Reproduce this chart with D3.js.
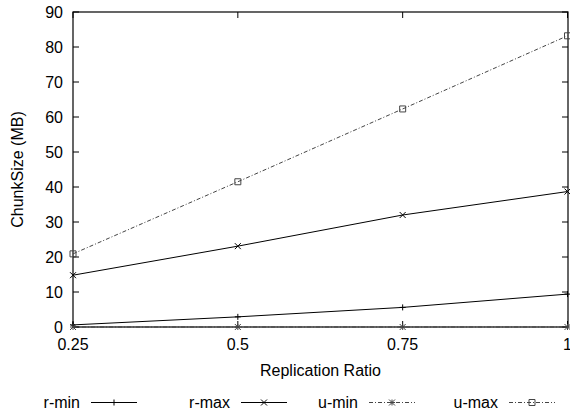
<!DOCTYPE html>
<html>
<head>
<meta charset="utf-8">
<script src="https://cdn.jsdelivr.net/npm/d3@7"></script>
<style>
  body { margin: 0; background: #fff; }
  text { font-family: "Liberation Sans", Arial, sans-serif; font-size: 16px; fill: #000; }
</style>
</head>
<body>
<div id="chart"></div>
<script>
// replication ratios on the x axis
var ratios = [0.25, 0.5, 0.75, 1];
var xTicks = ["0.25", "0.5", "0.75", "1"];
var yTicks = [0, 10, 20, 30, 40, 50, 60, 70, 80, 90];

// chunk sizes in MB
var rMin = [0.6, 2.9, 5.6, 9.4];
var rMax = [14.8, 23.1, 32.0, 38.7];
var uMin = [0, 0, 0, 0];
var uMax = [20.9, 41.5, 62.3, 83.2];

var seriesNames = ["r-min", "r-max", "u-min", "u-max"];

var width = 570, height = 416;
var margin = {top: 12, right: 2, bottom: 89, left: 73};
var w = width - margin.left - margin.right,
    h = height - margin.top - margin.bottom;

var svg = d3.select("#chart").append("svg")
    .attr("width", width)
    .attr("height", height);

var g = svg.append("g")
    .attr("transform", "translate(" + margin.left + "," + margin.top + ")");

var x = d3.scaleLinear().domain([0.25, 1]).range([0, w - 0.5]);
var y = d3.scaleLinear().domain([0, 90]).range([h, 0]);

var styles = [
    {name: seriesNames[0], data: rMin, dash: null, color: "#000", marker: "plus"},
    {name: seriesNames[1], data: rMax, dash: null, color: "#000", marker: "cross"},
    {name: seriesNames[2], data: uMin, dash: "4,2,1,2", color: "#444", marker: "star"},
    {name: seriesNames[3], data: uMax, dash: "4,2,1,2", color: "#444", marker: "box"}
];

// ticks, inward on all four sides
var tl = 6;
yTicks.forEach(function (t) {
    g.append("line").attr("x1", 0).attr("x2", tl).attr("y1", y(t)).attr("y2", y(t))
        .attr("stroke", "#000");
    g.append("line").attr("x1", w - tl).attr("x2", w).attr("y1", y(t)).attr("y2", y(t))
        .attr("stroke", "#000");
    g.append("text").attr("x", -10).attr("y", y(t) + 6)
        .attr("text-anchor", "end").text(t);
});
ratios.forEach(function (r, i) {
    g.append("line").attr("x1", x(r)).attr("x2", x(r)).attr("y1", h).attr("y2", h - tl)
        .attr("stroke", "#000");
    g.append("line").attr("x1", x(r)).attr("x2", x(r)).attr("y1", 0).attr("y2", tl)
        .attr("stroke", "#000");
    g.append("text").attr("x", x(r)).attr("y", h + 23)
        .attr("text-anchor", "middle").text(xTicks[i]);
});

// frame
g.append("rect").attr("x", 0).attr("y", 0).attr("width", w).attr("height", h)
    .attr("fill", "none").attr("stroke", "#000").attr("stroke-width", 1.2);

function marker(sel, type, cx, cy, color) {
    var s = 3;
    var p = sel.append("path").attr("fill", "none").attr("stroke", color).attr("stroke-width", 1);
    if (type === "plus") {
        p.attr("d", "M" + (cx - s) + "," + cy + "H" + (cx + s) + "M" + cx + "," + (cy - s) + "V" + (cy + s));
    } else if (type === "cross") {
        p.attr("d", "M" + (cx - s) + "," + (cy - s) + "L" + (cx + s) + "," + (cy + s) +
            "M" + (cx - s) + "," + (cy + s) + "L" + (cx + s) + "," + (cy - s));
    } else if (type === "star") {
        p.attr("d", "M" + (cx - s) + "," + cy + "H" + (cx + s) + "M" + cx + "," + (cy - s) + "V" + (cy + s) +
            "M" + (cx - s) + "," + (cy - s) + "L" + (cx + s) + "," + (cy + s) +
            "M" + (cx - s) + "," + (cy + s) + "L" + (cx + s) + "," + (cy - s));
    } else {
        p.attr("d", "M" + (cx - s) + "," + (cy - s) + "h" + (2 * s) + "v" + (2 * s) + "h" + (-2 * s) + "Z");
    }
}

var line = d3.line()
    .x(function (d, i) { return x(ratios[i]); })
    .y(function (d) { return y(d); });

styles.forEach(function (s) {
    g.append("path").datum(s.data)
        .attr("d", line)
        .attr("fill", "none")
        .attr("stroke", s.color)
        .attr("stroke-width", 1)
        .attr("stroke-dasharray", s.dash);
    s.data.forEach(function (d, i) {
        marker(g, s.marker, x(ratios[i]), y(d), s.color);
    });
});

// x and y axis titles
svg.append("text").attr("x", margin.left + w / 2).attr("y", 376)
    .attr("text-anchor", "middle").text("Replication Ratio");
svg.append("text")
    .attr("transform", "translate(23," + (margin.top + h / 2) + ") rotate(-90)")
    .attr("text-anchor", "middle").text("ChunkSize (MB)");

// legend in one row
var legendX = [80, 230, 358, 498];
styles.forEach(function (s, i) {
    var lx = legendX[i];
    svg.append("text").attr("x", lx).attr("y", 408)
        .attr("text-anchor", "end").text(s.name);
    svg.append("line").attr("x1", lx + 11).attr("x2", lx + 57)
        .attr("y1", 402.5).attr("y2", 402.5)
        .attr("stroke", s.color).attr("stroke-width", 1)
        .attr("stroke-dasharray", s.dash);
    marker(svg, s.marker, lx + 34, 402.5, s.color);
});
</script>
</body>
</html>
